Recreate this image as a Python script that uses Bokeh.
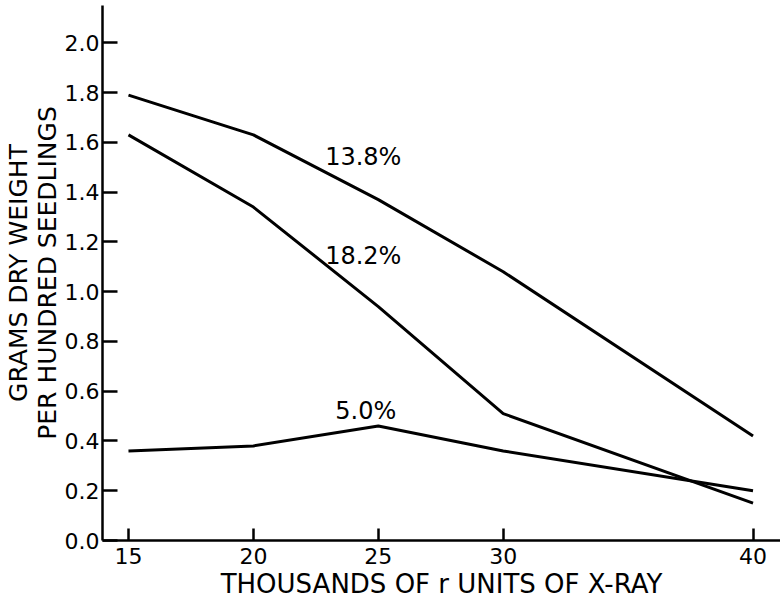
from bokeh.plotting import figure
from bokeh.models import FixedTicker, PrintfTickFormatter, Label
from bokeh.embed import file_html
from bokeh.resources import INLINE

dose = [15, 20, 25, 30, 40]
s138 = [1.79, 1.63, 1.37, 1.08, 0.42]
s182 = [1.63, 1.34, 0.94, 0.51, 0.15]
s50 = [0.36, 0.38, 0.46, 0.36, 0.20]
series_labels = ["13.8%", "18.2%", "5.0%"]
label_pos = [(24.4, 1.54), (24.4, 1.145), (24.5, 0.52)]
x_ticks = [15, 20, 25, 30, 40]
y_ticks = [0.0, 0.2, 0.4, 0.6, 0.8, 1.0, 1.2, 1.4, 1.6, 1.8, 2.0]

FONT = "DejaVu Sans"

p = figure(width=780, height=602, output_backend="svg", toolbar_location=None,
           x_range=(13.96, 41.1), y_range=(0, 2.15),
           min_border_left=101, min_border_right=0, min_border_top=5, min_border_bottom=62)
p.grid.visible = False
p.outline_line_color = None
p.background_fill_color = "white"
p.border_fill_color = "white"

for ys in (s138, s182, s50):
    p.line(dose, ys, line_color="black", line_width=3)

for txt, (lx, ly) in zip(series_labels, label_pos):
    p.add_layout(Label(x=lx, y=ly, text=txt, text_align="center", text_baseline="middle",
                       text_font=FONT, text_font_size="24px", text_color="black"))

p.xaxis.ticker = FixedTicker(ticks=x_ticks)
p.yaxis.ticker = FixedTicker(ticks=y_ticks)
p.yaxis.formatter = PrintfTickFormatter(format="%.1f")
for ax in (p.xaxis, p.yaxis):
    ax.axis_line_width = 2.5
    ax.axis_line_color = "black"
    ax.major_tick_line_width = 2.5
    ax.major_tick_line_color = "black"
    ax.minor_tick_line_color = None
    ax.major_tick_out = 0
    ax.major_label_text_font = FONT
    ax.major_label_text_color = "black"
    ax.axis_label_text_font = FONT
    ax.axis_label_text_font_style = "normal"
    ax.axis_label_text_color = "black"
p.yaxis.major_tick_in = 15
p.xaxis.major_tick_in = 12
p.yaxis.major_label_text_font_size = "22px"
p.xaxis.major_label_text_font_size = "22px"
p.xaxis.axis_label = "THOUSANDS OF r UNITS OF X-RAY"
p.xaxis.axis_label_text_font_size = "26px"
p.xaxis.axis_label_standoff = 2
p.yaxis.axis_label = "GRAMS DRY WEIGHT\nPER HUNDRED SEEDLINGS"
p.yaxis.axis_label_text_font_size = "25px"
p.yaxis.axis_label_text_line_height = 1.0
p.yaxis.axis_label_standoff = 0
p.yaxis.major_label_standoff = 3
p.xaxis.major_label_standoff = 7

open("out.html", "w").write(file_html(p, INLINE))
